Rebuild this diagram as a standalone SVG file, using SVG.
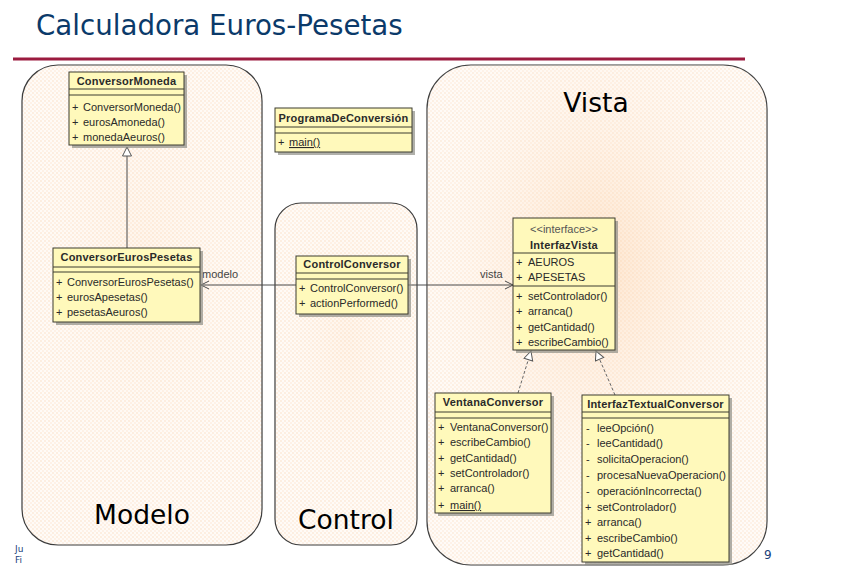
<svg xmlns="http://www.w3.org/2000/svg" width="858" height="582" viewBox="0 0 858 582">
<style>
.title{font-family:"DejaVu Sans",Verdana,sans-serif;font-size:27.7px;fill:#0b3a6a}
.cont{stroke:#3a3a3a;stroke-width:1.2}
.clabel{font-family:"DejaVu Sans",Verdana,sans-serif;font-size:26.5px;fill:#000;text-anchor:middle}
.cls{fill:#fff9bb;stroke:#3d3d30;stroke-width:1}
.shd{fill:#8f8f86;opacity:0.7}
.sep{stroke:#3d3d30;stroke-width:1}
.nm{font-family:"Liberation Sans",Arial,sans-serif;font-size:11px;font-weight:bold;fill:#2a2a2a;text-anchor:middle;letter-spacing:0.2px}
.st{font-family:"Liberation Sans",Arial,sans-serif;font-size:11px;fill:#555;text-anchor:middle}
.m{font-family:"Liberation Sans",Arial,sans-serif;font-size:11px;fill:#2a2a2a}
.u{text-decoration:underline}
.lbl{font-family:"Liberation Sans",Arial,sans-serif;font-size:11px;fill:#444}
.ln{stroke:#4a4a4a;stroke-width:1;fill:none}
.dash{stroke:#666;stroke-width:1;fill:none;stroke-dasharray:3,2}
.foot{font-family:"DejaVu Sans",Verdana,sans-serif;fill:#1a3f7a}
</style>
<defs>
<pattern id="dots" width="4" height="4" patternUnits="userSpaceOnUse">
<rect width="4" height="4" fill="#fffbf7"/>
<rect x="0" y="0" width="2" height="2" fill="#fdeee0"/>
<rect x="2" y="2" width="2" height="2" fill="#fef1e6"/>
</pattern>
<radialGradient id="glow" cx="0.5" cy="0.4" r="0.6">
<stop offset="0" stop-color="#fcd0a6" stop-opacity="0.5"/>
<stop offset="1" stop-color="#ffffff" stop-opacity="0.1"/>
</radialGradient>
<marker id="open" markerWidth="10" markerHeight="10" refX="9" refY="5" orient="auto" markerUnits="userSpaceOnUse">
<path d="M1,1 L9,5 L1,9" fill="none" stroke="#4a4a4a" stroke-width="1"/>
</marker>
<marker id="tri" markerWidth="12" markerHeight="12" refX="10" refY="5" orient="auto" markerUnits="userSpaceOnUse">
<path d="M1,0.5 L10,5 L1,9.5 Z" fill="#ffffff" stroke="#555" stroke-width="1"/>
</marker>
</defs>
<rect width="858" height="582" fill="#ffffff"/>
<text class="title" x="36" y="35">Calculadora Euros-Pesetas</text>
<rect x="13" y="57.5" width="732" height="3" fill="#9b1b3f"/>
<text class="foot" x="15" y="552" font-size="9">Ju</text>
<text class="foot" x="15" y="563" font-size="9">Fi</text>
<text class="foot" x="764" y="559" font-size="12">9</text>

<g id="modelo">
<rect class="cont" x="22" y="65" width="240" height="480" rx="36" fill="url(#dots)"/>
<rect x="22" y="65" width="240" height="480" rx="36" fill="url(#glow)" opacity="0.3"/>
<text class="clabel" x="142" y="524">Modelo</text>
</g>
<g id="control">
<rect class="cont" x="275" y="203" width="142" height="342" rx="26" fill="url(#dots)"/>
<rect x="275" y="203" width="142" height="342" rx="26" fill="url(#glow)" opacity="0.3"/>
<text class="clabel" x="346" y="529">Control</text>
</g>
<g id="vista">
<rect class="cont" x="427" y="65" width="340" height="500" rx="44" fill="url(#dots)"/>
<rect x="427" y="65" width="340" height="500" rx="44" fill="url(#glow)"/>
<text class="clabel" x="596" y="112">Vista</text>
</g>

<g id="connectors">
<line class="ln" x1="127" y1="248" x2="127" y2="147" marker-end="url(#tri)"/>
<line class="ln" x1="296" y1="285" x2="201" y2="285" marker-end="url(#open)"/>
<text class="lbl" x="202" y="278">modelo</text>
<line class="ln" x1="408" y1="285" x2="513" y2="285" marker-end="url(#open)"/>
<text class="lbl" x="480" y="278">vista</text>
<line class="dash" x1="518" y1="393" x2="531" y2="351" marker-end="url(#tri)"/>
<line class="dash" x1="615" y1="395" x2="596" y2="351" marker-end="url(#tri)"/>
</g>

<g id="ConversorMoneda">
<rect class="shd" x="72" y="75" width="115" height="73"/>
<rect class="cls" x="69" y="72" width="115" height="73"/>
<line class="sep" x1="69" y1="89" x2="184" y2="89"/>
<line class="sep" x1="69" y1="95" x2="184" y2="95"/>
<text class="nm" x="126.5" y="85">ConversorMoneda</text>
<text class="m" y="111"><tspan x="72">+</tspan><tspan x="83">ConversorMoneda()</tspan></text>
<text class="m" y="126"><tspan x="72">+</tspan><tspan x="83">eurosAmoneda()</tspan></text>
<text class="m" y="141"><tspan x="72">+</tspan><tspan x="83">monedaAeuros()</tspan></text>
</g>

<g id="ConversorEurosPesetas">
<rect class="shd" x="56" y="251" width="147" height="74"/>
<rect class="cls" x="53" y="248" width="147" height="74"/>
<line class="sep" x1="53" y1="267" x2="200" y2="267"/>
<line class="sep" x1="53" y1="272" x2="200" y2="272"/>
<text class="nm" x="126.5" y="261">ConversorEurosPesetas</text>
<text class="m" y="286"><tspan x="56">+</tspan><tspan x="67">ConversorEurosPesetas()</tspan></text>
<text class="m" y="301"><tspan x="56">+</tspan><tspan x="67">eurosApesetas()</tspan></text>
<text class="m" y="316"><tspan x="56">+</tspan><tspan x="67">pesetasAeuros()</tspan></text>
</g>

<g id="ProgramaDeConversion">
<rect class="shd" x="278" y="111" width="137" height="44"/>
<rect class="cls" x="275" y="108" width="137" height="44"/>
<line class="sep" x1="275" y1="127" x2="412" y2="127"/>
<line class="sep" x1="275" y1="133" x2="412" y2="133"/>
<text class="nm" x="343.5" y="122">ProgramaDeConversión</text>
<text class="m" y="146"><tspan x="278">+</tspan><tspan x="289" class="u">main()</tspan></text>
</g>

<g id="ControlConversor">
<rect class="shd" x="299" y="259" width="112" height="58"/>
<rect class="cls" x="296" y="256" width="112" height="58"/>
<line class="sep" x1="296" y1="273" x2="408" y2="273"/>
<line class="sep" x1="296" y1="279" x2="408" y2="279"/>
<text class="nm" x="352" y="268">ControlConversor</text>
<text class="m" y="292"><tspan x="299">+</tspan><tspan x="310">ControlConversor()</tspan></text>
<text class="m" y="307"><tspan x="299">+</tspan><tspan x="310">actionPerformed()</tspan></text>
</g>

<g id="InterfazVista">
<rect class="shd" x="516" y="221" width="102" height="132"/>
<rect class="cls" x="513" y="218" width="102" height="132"/>
<text class="st" x="564" y="233">&lt;&lt;interface&gt;&gt;</text>
<text class="nm" x="564" y="249">InterfazVista</text>
<line class="sep" x1="513" y1="253" x2="615" y2="253"/>
<text class="m" y="266" fill="#555"><tspan x="516">+</tspan><tspan x="528">AEUROS</tspan></text>
<text class="m" y="281" fill="#555"><tspan x="516">+</tspan><tspan x="528">APESETAS</tspan></text>
<line class="sep" x1="513" y1="286" x2="615" y2="286"/>
<text class="m" y="300"><tspan x="516">+</tspan><tspan x="528">setControlador()</tspan></text>
<text class="m" y="315"><tspan x="516">+</tspan><tspan x="528">arranca()</tspan></text>
<text class="m" y="331"><tspan x="516">+</tspan><tspan x="528">getCantidad()</tspan></text>
<text class="m" y="346"><tspan x="516">+</tspan><tspan x="528">escribeCambio()</tspan></text>
</g>

<g id="VentanaConversor">
<rect class="shd" x="438" y="396" width="116" height="120"/>
<rect class="cls" x="435" y="393" width="116" height="120"/>
<line class="sep" x1="435" y1="412" x2="551" y2="412"/>
<line class="sep" x1="435" y1="418" x2="551" y2="418"/>
<text class="nm" x="493" y="406">VentanaConversor</text>
<text class="m" y="431"><tspan x="438">+</tspan><tspan x="450">VentanaConversor()</tspan></text>
<text class="m" y="446"><tspan x="438">+</tspan><tspan x="450">escribeCambio()</tspan></text>
<text class="m" y="462"><tspan x="438">+</tspan><tspan x="450">getCantidad()</tspan></text>
<text class="m" y="477"><tspan x="438">+</tspan><tspan x="450">setControlador()</tspan></text>
<text class="m" y="492"><tspan x="438">+</tspan><tspan x="450">arranca()</tspan></text>
<text class="m" y="509"><tspan x="438">+</tspan><tspan x="450" class="u">main()</tspan></text>
</g>

<g id="InterfazTextualConversor">
<rect class="shd" x="585" y="398" width="147" height="167"/>
<rect class="cls" x="582" y="395" width="147" height="167"/>
<line class="sep" x1="582" y1="412" x2="729" y2="412"/>
<line class="sep" x1="582" y1="418" x2="729" y2="418"/>
<text class="nm" x="655.5" y="408">InterfazTextualConversor</text>
<text class="m" y="432"><tspan x="586">-</tspan><tspan x="597">leeOpción()</tspan></text>
<text class="m" y="447"><tspan x="586">-</tspan><tspan x="597">leeCantidad()</tspan></text>
<text class="m" y="463"><tspan x="586">-</tspan><tspan x="597">solicitaOperacion()</tspan></text>
<text class="m" y="479"><tspan x="586">-</tspan><tspan x="597">procesaNuevaOperacion()</tspan></text>
<text class="m" y="495"><tspan x="586">-</tspan><tspan x="597">operaciónIncorrecta()</tspan></text>
<text class="m" y="511"><tspan x="585">+</tspan><tspan x="597">setControlador()</tspan></text>
<text class="m" y="526"><tspan x="585">+</tspan><tspan x="597">arranca()</tspan></text>
<text class="m" y="542"><tspan x="585">+</tspan><tspan x="597">escribeCambio()</tspan></text>
<text class="m" y="557"><tspan x="585">+</tspan><tspan x="597">getCantidad()</tspan></text>
</g>
</svg>
